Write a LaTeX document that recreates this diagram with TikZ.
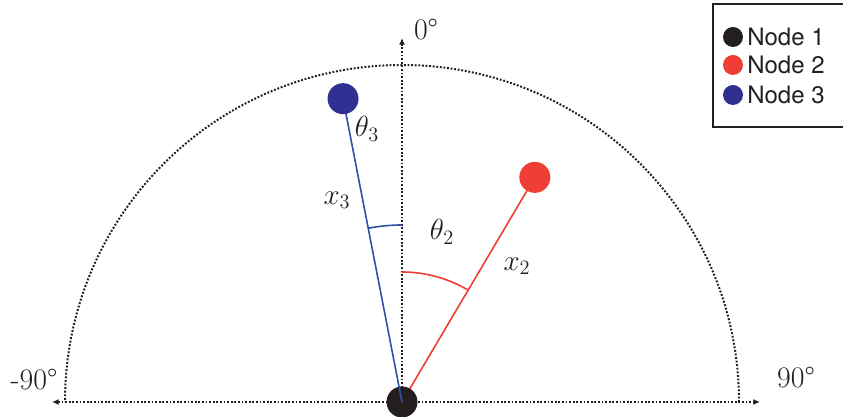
\RequirePackage{fix-cm}
\documentclass[tikz,border=0pt]{standalone}
\usepackage{fontspec}
\newfontfamily\legendfont{TeX Gyre Heros}
\usetikzlibrary{arrows.meta}
\definecolor{nodeblack}{HTML}{231F20}
\definecolor{nodered}{HTML}{EF3E36}
\definecolor{nodeblue}{HTML}{2E3192}
\definecolor{lineblue}{HTML}{3050A3}

\begin{document}
\begin{tikzpicture}[
  x=0.75pt, y=0.75pt,
  >={Latex[length=5pt, width=4.5pt]},
  guide/.style={nodeblack, line width=1.5pt, dash pattern=on 1.4pt off 1.3pt},
  mass/.style={circle, inner sep=0pt, minimum size=31*0.75pt},
  lbl/.style={font=\fontsize{19}{22}\selectfont, text=nodeblack, scale=1.15},
  deg/.style={font=\fontsize{20}{24}\selectfont, text=nodeblack, scale=1.12},
  key/.style={circle, inner sep=0pt, minimum size=20*0.75pt},
  keytext/.style={font=\legendfont\fontsize{18}{21}\selectfont, text=nodeblack, anchor=west, inner sep=0pt},
]

% Frame
\useasboundingbox (-402,-15) rectangle (441,402);
\clip (-402,-15) rectangle (441,402);

% Half circle and axes
\draw[guide] (337,0) arc (0:180:337);
\coordinate (west) at (-350,0);
\coordinate (east) at (358,0);
\coordinate (north) at (0,364);
\draw[guide, <->] (west) -- (east);
\draw[guide, ->] (0,0) -- (north);

\node[deg] (up) at (24,372) {0°};
\node[deg] (left) at (-368,22) {-90°};
\node[deg] (right) at (394,24) {90°};

% Node 2 (red)
\coordinate (o) at (0,0);
\coordinate (p2) at (59.4:261);
\draw[nodered, line width=1.2pt] (o) -- (p2);
\draw[nodered, line width=1.2pt] (90:130) arc (90:59.4:130);
\node[mass, fill=nodered] (n2) at (p2) {};
\node[lbl] (th2) at (40,170) {$\theta_2$};
\node[lbl] (x2) at (115,136) {$x_2$};

% Node 1 (black)
\node[mass, fill=nodeblack] (n1) at (o) {};

% Node 3 (blue)
\coordinate (p3) at (101:309);
\draw[lineblue, line width=1.2pt] (o) -- (p3);
\draw[lineblue, line width=1.2pt] (90:177) arc (90:101:177);
\node[mass, fill=nodeblue] (n3) at (p3) {};
\node[lbl] (th3) at (-35,273) {$\theta_3$};
\node[lbl] (x3) at (-65,202) {$x_3$};

% Legend
\draw[nodeblack, line width=0.8pt] (311,275) rectangle (450,398);
\node[key, fill=nodeblack] (k1) at (331,365) {};
\node[keytext] (t1) at (345,365) {Node 1};
\node[key, fill=nodered] (k2) at (331,337) {};
\node[keytext] (t2) at (345,337) {Node 2};
\node[key, fill=nodeblue] (k3) at (331,307) {};
\node[keytext] (t3) at (345,307) {Node 3};

\end{tikzpicture}
\end{document}
